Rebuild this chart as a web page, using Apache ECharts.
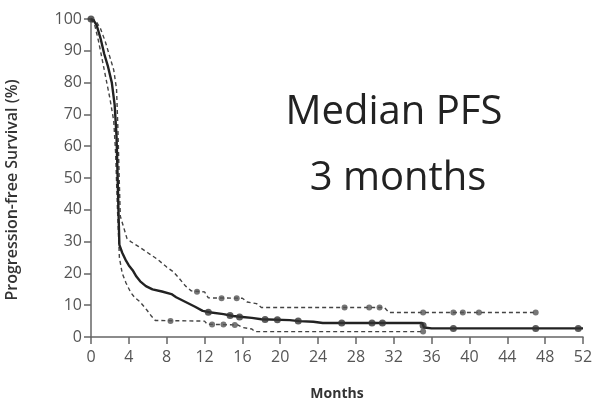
<!DOCTYPE html>
<html><head><meta charset="utf-8">
<script src="https://cdn.jsdelivr.net/npm/echarts@6/dist/echarts.min.js"></script>
<style>html,body{margin:0;padding:0;background:#fff}#c{width:596px;height:403px}</style>
</head><body><div id="c"></div>
<script>
// Kaplan-Meier estimate (months, % progression-free)
const mainCurve = [[0,100],[0.3,99.5],[0.6,98],[1,94],[1.4,89],[1.8,85],[2.2,80],[2.5,73],[2.7,63],[2.8,52],[2.9,40],[3,29],[3.3,26.5],[3.7,24],[4,22.5],[4.4,21],[4.8,19],[5.2,17.5],[5.8,16],[6.5,15],[7.5,14.3],[8.5,13.5],[9,12.5],[10,11],[11,9.5],[11.8,8.2],[12.5,7.8],[14,7.2],[15,6.6],[16,6.3],[17,6],[18,5.6],[21,5.3],[22,5],[23.5,4.8],[24.5,4.4],[35,4.4],[35.2,3],[36,2.7],[52,2.7]];
const upperCI = [[0,100],[0.5,99.5],[1,97],[1.5,93],[2,88],[2.4,84],[2.7,78],[2.85,65],[3,48],[3.1,38],[3.4,35],[3.8,31],[4.2,30],[5,28.5],[6,26.5],[7,24.5],[8,22],[8.7,20.5],[9.3,18.5],[10,16],[10.6,14.5],[12,14.2],[12.4,12.3],[16,12.2],[16.5,11],[17.5,10.5],[18,9.3],[31,9.3],[31.5,7.7],[47,7.7]];
const lowerCI = [[0,100],[0.4,98],[0.8,93],[1.2,87],[1.6,81],[2,75],[2.4,68],[2.6,58],[2.8,40],[3,25],[3.3,20],[3.7,17],[4.2,14],[4.6,12.5],[5.2,11],[5.9,8.5],[6.4,6.5],[6.8,5.2],[12,5],[12.3,4],[15.5,3.8],[16,3],[17,2.5],[17.3,1.7],[35,1.7]];
const mainCensor = [[0,100],[12.4,7.8],[14.7,6.8],[15.7,6.3],[18.4,5.5],[19.7,5.4],[21.9,5],[26.5,4.4],[29.7,4.4],[30.8,4.4],[35.1,3.6],[38.3,2.7],[47,2.7],[51.5,2.7]];
const upperCensor = [[11.2,14.2],[13.8,12.2],[15.4,12.2],[26.8,9.3],[29.4,9.3],[30.5,9.3],[35.1,7.7],[38.3,7.7],[39.3,7.7],[41,7.7],[47,7.7]];
const lowerCensor = [[8.4,5],[12.8,3.9],[14,3.9],[15.2,3.8],[35.1,1.7]];
const xTicks = {min:0, max:52, step:4};
const yTicks = {min:0, max:100, step:10};
const annotation = ['Median PFS', '3 months'];

const chart = echarts.init(document.getElementById('c'), null, {renderer:'canvas'});
const axisCol = '#666';
const lab = {color:'#555', fontFamily:'Open Sans', fontSize:16};
chart.setOption({
  animation:false,
  grid:{left:91, top:19, right:13, bottom:66, containLabel:false, outerBoundsMode:'none'},
  xAxis:{type:'value', min:xTicks.min, max:xTicks.max, interval:xTicks.step,
    name:'Months', nameLocation:'middle', nameGap:50,
    nameTextStyle:{fontFamily:'Open Sans', fontWeight:'bold', fontSize:14, color:'#333'},
    axisLine:{lineStyle:{color:axisCol, width:1.5}}, axisTick:{show:true, length:7, lineStyle:{color:axisCol, width:1.5}},
    axisLabel:Object.assign({margin:12}, lab), splitLine:{show:false}},
  yAxis:{type:'value', min:yTicks.min, max:yTicks.max, interval:yTicks.step,
    name:'Progression-free Survival (%)', nameLocation:'middle', nameGap:71, nameRotate:90,
    nameTextStyle:{fontFamily:'Open Sans', fontWeight:600, fontSize:16, color:'#333', padding:[0,24,0,0]},
    axisLine:{show:true, lineStyle:{color:axisCol, width:1.5}}, axisTick:{show:true, length:7, lineStyle:{color:axisCol, width:1.5}},
    axisLabel:Object.assign({margin:9}, lab), splitLine:{show:false}},
  graphic:[
    {type:'text', x:394, y:113, style:{text:annotation[0], textAlign:'center', textVerticalAlign:'middle', font:'40px "Open Sans"', fill:'#222'}},
    {type:'text', x:398, y:179, style:{text:annotation[1], textAlign:'center', textVerticalAlign:'middle', font:'40px "Open Sans"', fill:'#222'}}
  ],
  series:[
    {type:'line', data:upperCI, symbol:'none', lineStyle:{color:'#444', width:1.4, type:[4,3]}, z:2},
    {type:'line', data:lowerCI, symbol:'none', lineStyle:{color:'#444', width:1.4, type:[4,3]}, z:2},
    {type:'line', data:mainCurve, symbol:'none', lineStyle:{color:'#222', width:2.4}, z:3},
    {type:'scatter', data:mainCensor, symbolSize:7, itemStyle:{color:'#333'}, z:4},
    {type:'scatter', data:upperCensor, symbolSize:6, itemStyle:{color:'#555'}, z:4},
    {type:'scatter', data:lowerCensor, symbolSize:6, itemStyle:{color:'#555'}, z:4}
  ]
});
</script></body></html>
